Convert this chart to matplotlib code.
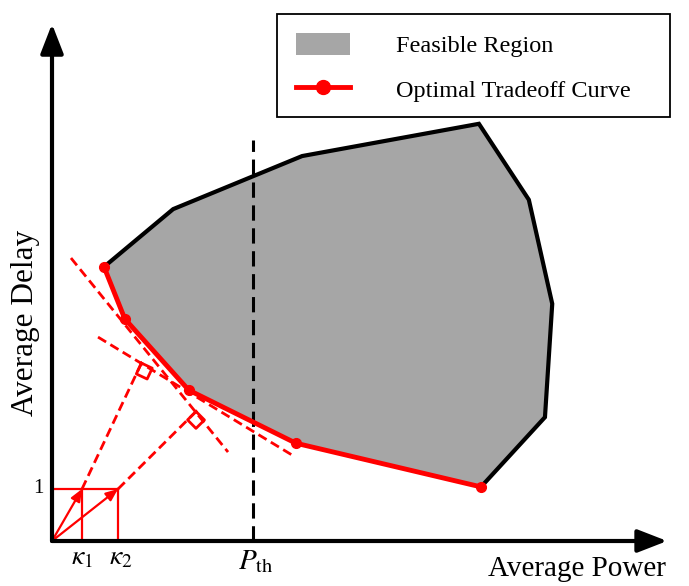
import numpy as np
import matplotlib
matplotlib.use("Agg")
import matplotlib.pyplot as plt
from matplotlib.patches import Patch, Polygon, Rectangle
from matplotlib.lines import Line2D

plt.rcParams["font.family"] = ["Liberation Serif", "DejaVu Serif"]
plt.rcParams["mathtext.fontset"] = "stix"

# optimal tradeoff curve (lower-left boundary of the feasible region)
curve_power = [1.00, 1.40, 2.63, 4.69, 8.25]
curve_delay = [5.27, 4.27, 2.90, 1.88, 1.04]

# rest of the feasible region boundary (going back round to the start)
boundary_power = [9.48, 9.62, 9.17, 8.21, 4.81, 2.33]
boundary_delay = [2.38, 4.56, 6.56, 8.02, 7.40, 6.38]

# supporting lines (dashed) and where the perpendiculars hit them
tangent1 = [(0.365, 5.44), (3.385, 1.71)]
tangent2 = [(0.885, 3.92), (4.67, 1.62)]
kappa = [0.577, 1.27]
feet = [(1.72, 3.42), (2.77, 2.49)]

p_th = 3.87
p_th_top = 7.71
x_end, y_end = 11.83, 9.94

fig = plt.figure(figsize=(6.89, 5.86), dpi=100)
ax = fig.add_axes([0, 0, 1, 1])
ax.set_xlim(-1.0, 12.25)
ax.set_ylim(-0.865, 10.40)
ax.axis("off")

# feasible region
px = curve_power + boundary_power
py = curve_delay + boundary_delay
ax.add_patch(Polygon(np.column_stack([px, py]), closed=True,
                     facecolor="#a6a6a6", edgecolor="none", zorder=1))
ax.plot([curve_power[-1]] + boundary_power + [curve_power[0]],
        [curve_delay[-1]] + boundary_delay + [curve_delay[0]],
        color="black", lw=3, solid_joinstyle="miter", zorder=2)

# P_th line
ax.plot([p_th, p_th], [0, p_th_top], color="black", lw=2.2,
        dashes=(5, 2.5), zorder=3)

# tangent lines
for (a, b) in (tangent1, tangent2):
    ax.plot([a[0], b[0]], [a[1], b[1]], color="red", lw=2.0,
            dashes=(3.4, 1.8), zorder=4)

# kappa boxes and arrows
ax.plot([0, kappa[1]], [1, 1], color="red", lw=1.6, zorder=4)
for k, f in zip(kappa, feet):
    ax.plot([k, k], [0, 1], color="red", lw=1.6, zorder=4)
    ax.annotate("", xy=(k, 1), xytext=(0, 0),
                arrowprops=dict(arrowstyle="-|>,head_length=0.6,head_width=0.25",
                                color="red", lw=1.6, mutation_scale=12,
                                shrinkA=0, shrinkB=0),
                zorder=5)
    ax.plot([k, f[0]], [1, f[1]], color="red", lw=2.0, dashes=(3.4, 1.8),
            zorder=4)
    # right-angle marker
    n = np.array([k - f[0], 1 - f[1]])
    n = n / np.linalg.norm(n)
    u = np.array([-n[1], n[0]])
    s = 0.23
    f = np.array(f)
    sq = np.array([f, f + s * n, f + s * n + s * u, f + s * u, f])
    ax.plot(sq[:, 0], sq[:, 1], color="red", lw=2.0, zorder=5)

# tradeoff curve
ax.plot(curve_power, curve_delay, color="red", lw=3.5, marker="o",
        markersize=7, zorder=6)

# axes with arrows
for xy in ((x_end, 0), (0, y_end)):
    ax.annotate("", xy=xy, xytext=(0, 0),
                arrowprops=dict(arrowstyle="-|>,head_length=0.9,head_width=0.35",
                                color="black", lw=3, mutation_scale=20,
                                shrinkA=0, shrinkB=0),
                zorder=7)

ax.text(11.80, -0.54, "Average Power", fontsize=21, ha="right", va="center")
ax.text(-0.50, 4.20, "Average Delay", fontsize=22.5, rotation=90,
        ha="center", va="center")
ax.text(-0.16, 1.0, "1", fontsize=15, ha="right", va="center")
ax.text(kappa[0], -0.33, r"$\kappa_1$", fontsize=20, ha="center", va="center")
ax.text(kappa[1] + 0.05, -0.33, r"$\kappa_2$", fontsize=20, ha="center",
        va="center")
ax.text(p_th + 0.05, -0.40, r"$P_{\rm th}$", fontsize=21, ha="center",
        va="center")

# legend box drawn by hand, entries from legend()
fig.patches.append(Rectangle((277 / 689, 1 - 117 / 586), 393 / 689, 103 / 586,
                             transform=fig.transFigure, facecolor="white",
                             edgecolor="black", lw=1.3, zorder=8))
handles = [Patch(facecolor="#a6a6a6", edgecolor="none"),
           Line2D([], [], color="red", lw=3.5, marker="o", markersize=10)]
leg = fig.legend(handles, ["Feasible Region", "Optimal Tradeoff Curve"],
                 loc="center left", bbox_to_anchor=(296 / 689, 1 - 67.5 / 586),
                 fontsize=17.5, frameon=False, handlelength=2.22,
                 handleheight=1.05, handletextpad=1.9, labelspacing=0.83,
                 borderpad=0, borderaxespad=0)
leg.set_zorder(9)

fig.savefig("out.png", dpi=100)
